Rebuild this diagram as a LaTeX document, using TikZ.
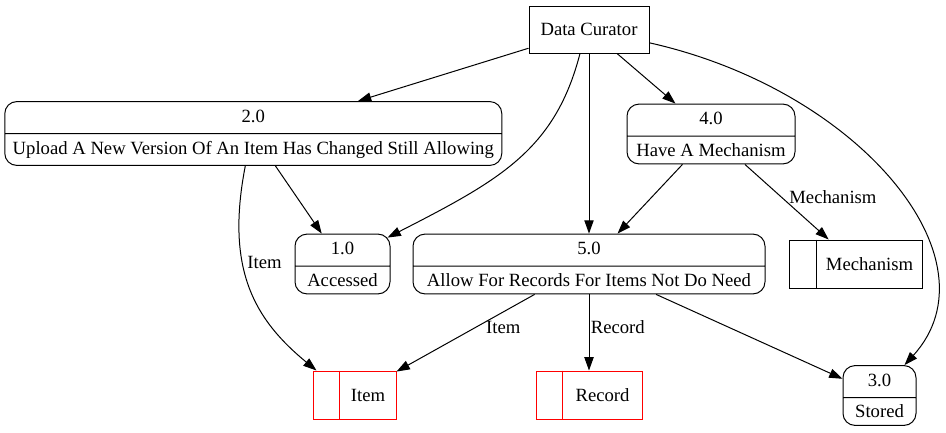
\documentclass[tikz,border=0pt]{standalone}
\usepackage{fontspec}
\setmainfont{Liberation Serif}
\usetikzlibrary{arrows.meta, shapes.multipart}

\begin{document}
\begin{tikzpicture}[x=0.75pt,y=-0.75pt,line width=0.75pt,
  font=\fontsize{14pt}{17pt}\selectfont,
  proc/.style={draw,rectangle split,rectangle split parts=2,rounded corners=9pt,
    text height=10pt,text depth=3pt,inner ysep=5.125pt,inner xsep=4pt},
  ext/.style={draw,minimum width=90pt,minimum height=35.25pt},
  store/.style={draw,minimum height=36pt,inner sep=0pt},
  flow/.style={-{Triangle[length=10pt,width=7pt]}}]
  \useasboundingbox (0,0) rectangle (946,432);
  % external entity and processes
  \node[ext] (dc) at (589,29.5) {Data Curator};
  \node[proc,minimum width=372.75pt] (p2) at (253.3,133.5) {2.0\nodepart{two}Upload A New Version Of An Item Has Changed Still Allowing};
  \node[proc,minimum width=126pt] (p4) at (711,134) {4.0\nodepart{two}Have A Mechanism};
  \node[proc,minimum width=71.25pt] (p1) at (342.5,264) {1.0\nodepart{two}Accessed};
  \node[proc,minimum width=264pt] (p5) at (589,264) {5.0\nodepart{two}Allow For Records For Items Not Do Need};
  \node[proc,minimum width=54.75pt] (p3) at (879.5,395.5) {3.0\nodepart{two}Stored};
  % data stores
  \node[store,minimum width=99.75pt] (mech) at (856,264) {\hspace*{20.25pt}Mechanism};
  \node[store,draw=red,minimum width=62.25pt] (item) at (354.5,395) {\hspace*{20.25pt}Item};
  \node[store,draw=red,minimum width=79.5pt] (rec) at (589,395) {\hspace*{20.25pt}Record};
  \foreach \s/\c in {item/red,rec/red,mech/black}
    \draw[\c] ([xshift=20.25pt]\s.north west) -- ([xshift=20.25pt]\s.south west);
  % flows
  \draw[flow] (dc) -- (p2);
  \draw[flow] ([xshift=-6.75pt]dc.south) .. controls (555,150) and (500,180) .. ([xshift=-2.25pt,yshift=-3pt]p1.north east);
  \draw[flow] (dc) -- (p5);
  \draw[flow] (dc) -- (p4);
  \draw[flow] ([yshift=-10pt]dc.east) .. controls (860,90) and (1000,260) .. ([xshift=-9pt]p3.north east);
  \draw[flow] (p2) -- (p1);
  \draw[flow] ([xshift=-6pt]p2.south) .. controls (225,270) and (255,320) .. ([xshift=3pt]item.north west) node[pos=0.37,right]{Item};
  \draw[flow] (p4) -- (p5);
  \draw[flow] (p4) -- (mech) node[pos=0.44,right=2pt]{Mechanism};
  \draw[flow] (p5) -- (item) node[pos=0.43,right=4.5pt]{Item};
  \draw[flow] (p5) -- (rec) node[pos=0.43,right,inner sep=1pt]{Record};
  \draw[flow] (p5) -- (p3);
\end{tikzpicture}
\end{document}
